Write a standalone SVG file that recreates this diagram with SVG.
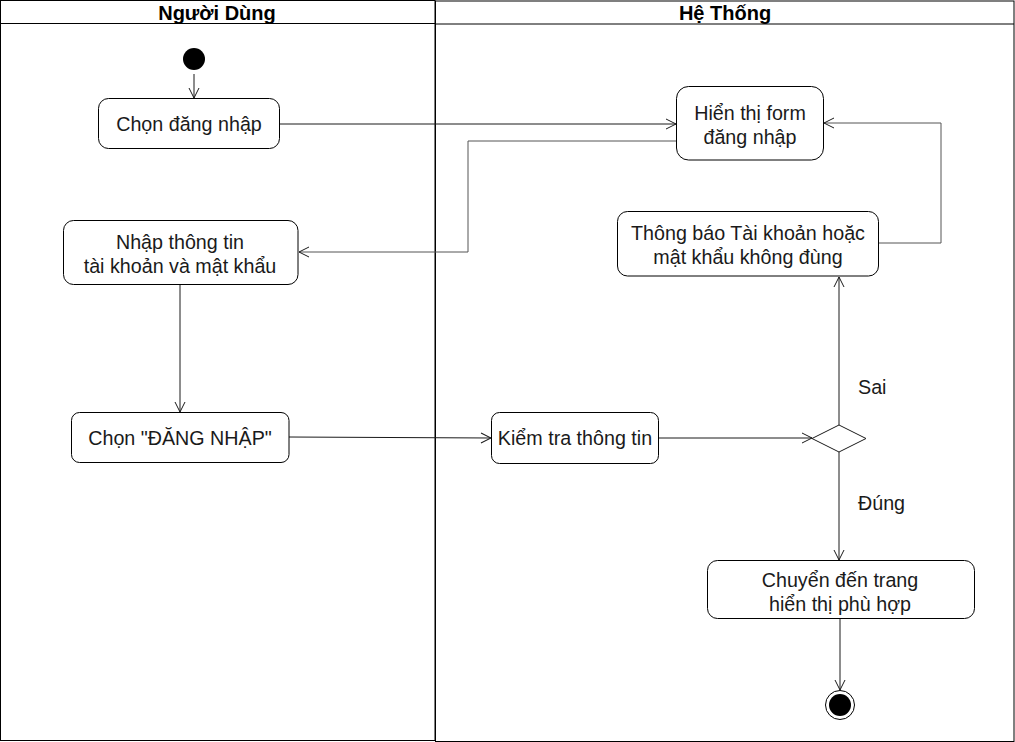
<svg xmlns="http://www.w3.org/2000/svg" width="1015" height="742" viewBox="0 0 1015 742">
<style>
.lane{fill:#fff;stroke:#000;stroke-width:1}
.hdr{font-family:"Liberation Sans",Arial,sans-serif;font-size:20px;font-weight:bold;text-anchor:middle;fill:#000}
.act{fill:#fff;stroke:#000;stroke-width:1}
.t{font-family:"Liberation Sans",Arial,sans-serif;font-size:19.7px;text-anchor:middle;fill:#1a1a1a}
.c{fill:none;stroke:#1a1a1a;stroke-width:1;marker-end:url(#arr)}
.g{stroke:#555}
.lbl{font-family:"Liberation Sans",Arial,sans-serif;font-size:19.7px;fill:#1a1a1a}
</style>
<defs>
<marker id="arr" viewBox="0 0 12 12" refX="11" refY="6" markerWidth="12" markerHeight="12" markerUnits="userSpaceOnUse" orient="auto">
<path d="M1,1 L11,6 L1,11" fill="none" stroke="#1a1a1a" stroke-width="1"/>
</marker>
</defs>
<rect width="1015" height="742" fill="#fff"/>
<g id="lane-nguoi-dung">
<rect class="lane" x="0.5" y="0.5" width="434.5" height="740"/>
<line x1="0.5" y1="23.5" x2="435" y2="23.5" stroke="#000"/>
<text class="hdr" x="217" y="20">Người Dùng</text>
</g>
<g id="lane-he-thong">
<rect class="lane" x="435.5" y="1" width="578.5" height="740.5"/>
<line x1="435.5" y1="24" x2="1014" y2="24" stroke="#000"/>
<text class="hdr" x="725" y="20">Hệ Thống</text>
</g>
<g id="connectors">
<path class="c" d="M194,74 L194,98"/>
<path class="c" d="M280,124 L676,124"/>
<path class="c g" d="M676,141 L468,141 L468,252 L299,252"/>
<path class="c" d="M180,284 L180,412"/>
<path class="c" d="M289,437 L491,438"/>
<path class="c" d="M658,438 L812,438"/>
<path class="c" d="M839,425 L839,277"/>
<path class="c" d="M839,452 L839,560"/>
<path class="c g" d="M878,243 L941,243 L941,123 L824,123"/>
<path class="c" d="M840,618 L840,690"/>
<text class="lbl" x="858" y="394">Sai</text>
<text class="lbl" x="858" y="510">Đúng</text>
</g>
<g id="start">
<circle cx="194" cy="59" r="11" fill="#000"/>
</g>
<g id="chon-dang-nhap">
<rect class="act" x="98.5" y="98.5" width="181" height="50" rx="10"/>
<text class="t" x="189" y="131">Chọn đăng nhập</text>
</g>
<g id="nhap-thong-tin">
<rect class="act" x="63.5" y="220.5" width="234.5" height="64" rx="10"/>
<text class="t" x="180" y="249">Nhập thông tin</text>
<text class="t" x="180" y="273">tài khoản và mật khẩu</text>
</g>
<g id="chon-dang-nhap-btn">
<rect class="act" x="71.5" y="412.5" width="217.5" height="50" rx="8"/>
<text class="t" x="180" y="445">Chọn "ĐĂNG NHẬP"</text>
</g>
<g id="hien-thi-form">
<rect class="act" x="676.5" y="86.5" width="147" height="73.5" rx="12"/>
<text class="t" x="750" y="120">Hiển thị form</text>
<text class="t" x="750" y="144">đăng nhập</text>
</g>
<g id="thong-bao">
<rect class="act" x="617.5" y="211.5" width="261" height="64.5" rx="10"/>
<text class="t" x="748" y="240">Thông báo Tài khoản hoặc</text>
<text class="t" x="748" y="264">mật khẩu không đùng</text>
</g>
<g id="kiem-tra">
<rect class="act" x="491.5" y="412.5" width="167" height="51" rx="8"/>
<text class="t" x="575" y="445">Kiểm tra thông tin</text>
</g>
<g id="decision">
<path d="M839,425 L866,438.5 L839,452 L812,438.5 Z" fill="#fff" stroke="#1a1a1a"/>
</g>
<g id="chuyen-den">
<rect class="act" x="707.5" y="560.5" width="267" height="58" rx="10"/>
<text class="t" x="840" y="587">Chuyển đến trang</text>
<text class="t" x="840" y="611">hiển thị phù hợp</text>
</g>
<g id="end">
<circle cx="840" cy="705" r="14.5" fill="#fff" stroke="#000" stroke-width="1"/>
<circle cx="840" cy="705" r="11" fill="#000"/>
</g>
</svg>
